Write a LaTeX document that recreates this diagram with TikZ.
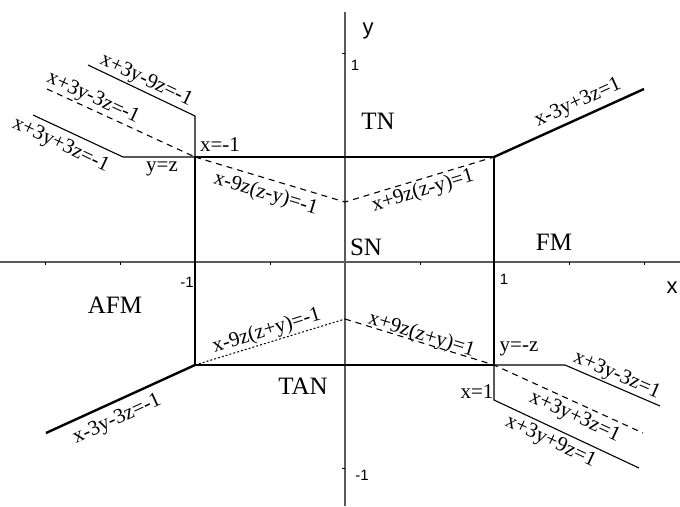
\documentclass[tikz,border=0pt]{standalone}
\usepackage{fontspec}
\setmainfont{Liberation Serif}
\setsansfont{Liberation Sans}
\usetikzlibrary{positioning}
\definecolor{axgray}{RGB}{90,90,90}

\tikzset{
  axisline/.style={draw=axgray, line width=1.3pt},
  tickline/.style={draw=black, line width=0.8pt},
  bound/.style={line width=2.4pt},
  solidln/.style={line width=1.1pt},
  dashln/.style={line width=1.1pt, dash pattern=on 6pt off 5pt},
  dotln/.style={line width=1pt, dash pattern=on 2pt off 2pt},
  eq/.style={font=\fontsize{21}{21}\selectfont, inner sep=1pt},
  region/.style={font=\fontsize{25}{25}\selectfont, inner sep=0pt},
  axlabel/.style={font=\sffamily\fontsize{22}{22}\selectfont, inner sep=0pt},
  ticklabel/.style={font=\sffamily\fontsize{15}{15}\selectfont, inner sep=0pt}
}

\begin{document}
\begin{tikzpicture}[x=1pt, y=-1pt]
\useasboundingbox (0,0) rectangle (680,506);
\coordinate (xl) at (0,262);
\coordinate (xr) at (680,262);
\coordinate (yt) at (345,12);
\coordinate (yb) at (345,506);
\draw[axisline] (xl) -- (xr);
\draw[axisline] (yt) -- (yb);
\foreach \t in {45,120,270,420,569,644}
  \draw[tickline] (\t,262) -- (\t,265);
\foreach \t in {53,468}
  \draw[tickline] (345,\t) -- (342,\t);
\node[axlabel] (ylab) at (368,31) {y};
\node[axlabel] (xlab) at (672,288) {x};
\node[ticklabel] (y1) at (355,65) {1};
\node[ticklabel] (ym1) at (362,475) {-1};
\node[ticklabel] (xm1) at (187,282) {-1};
\node[ticklabel] (x1) at (504,279) {1};

\coordinate (tl) at (195,157);
\coordinate (tr) at (494,157);
\coordinate (br) at (494,365);
\coordinate (bl) at (195,365);
\coordinate (vtop) at (345,202);
\coordinate (vbot) at (345,319);
\draw[bound] (tl) -- (tr) -- (br) -- (bl) -- cycle;
\draw[bound] (tr) -- (644,89) node[eq, pos=0.6, sloped, above=3pt] {x-3y+3z=1};
\draw[bound] (46,433) -- node[eq, pos=0.43, sloped, below=6pt] {x-3y-3z=-1} (bl);

\coordinate (tlup) at (195,116);
\coordinate (tlleft) at (123,157);
\draw[solidln] (88,65) -- node[eq, sloped, above] {x+3y-9z=-1} (tlup) -- (tl);
\draw[dashln] (47,89) -- node[eq, pos=0.28, sloped, above=0pt] {x+3y-3z=-1} (tl);
\draw[solidln] (33,115) -- node[eq, pos=0.38, sloped, below=5pt] {x+3y+3z=-1} (tlleft) -- (tl);
\node[eq] (yz) at (162,169) {y=z};
\node[eq] (xm) at (220,145) {x=-1};

\draw[dashln] (tl) -- node[eq, sloped, below=4pt] {x-9z(z-y)=-1} (vtop)
  -- node[eq, sloped, below=1pt] {x+9z(z-y)=1} (tr);
\draw[dotln] (bl) -- node[eq, sloped, above=0pt] {x-9z(z+y)=-1} (vbot);
\draw[dashln] (vbot) -- node[eq, sloped, above=-4pt] {x+9z(z+y)=1} (br)
  -- node[eq, pos=0.58, sloped, below=3pt] {x+3y+3z=1} (643,433);

\coordinate (brright) at (565,365);
\coordinate (brdown) at (494,400);
\draw[solidln] (br) -- (brright) -- node[eq, sloped, above=0pt] {x+3y-3z=1} (660,406);
\draw[solidln] (br) -- (brdown) -- node[eq, pos=0.43, sloped, below=3pt] {x+3y+9z=1} (639,468);
\node[eq] (ymz) at (519,349) {y=-z};
\node[eq] (xp) at (477,392) {x=1};

\node[region] (tn) at (378,121) {TN};
\node[region] (sn) at (366,247) {SN};
\node[region] (fm) at (554,242) {FM};
\node[region] (afm) at (115,305) {AFM};
\node[region] (tan) at (303,386) {TAN};
\end{tikzpicture}
\end{document}
